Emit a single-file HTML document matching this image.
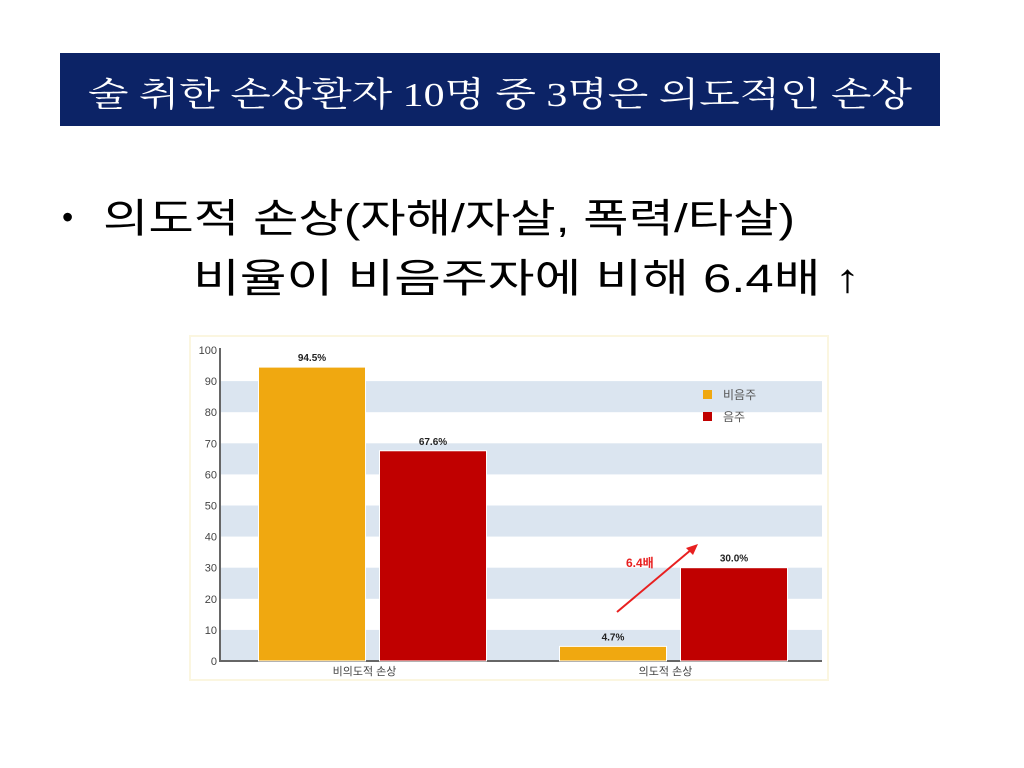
<!DOCTYPE html>
<html><head><meta charset="utf-8"><style>
html,body{margin:0;padding:0;background:#fff;width:1024px;height:768px;overflow:hidden}
svg{display:block}
text{font-family:"Liberation Sans","Noto Sans CJK KR",sans-serif}
</style></head><body>
<svg id="s" width="1024" height="768" viewBox="0 0 1024 768">
<rect x="60" y="53" width="880" height="73" fill="#0c2366"/>
<text x="88" y="106" font-size="34" fill="#fff" textLength="824" lengthAdjust="spacingAndGlyphs" style="font-family:'Liberation Serif','Noto Serif CJK SC',serif">술 취한 손상환자 10명 중 3명은 의도적인 손상</text>
<text x="62" y="228" font-size="32" fill="#000">•</text>
<text x="103" y="232" font-size="40" fill="#000" textLength="692" lengthAdjust="spacingAndGlyphs">의도적 손상(자해/자살, 폭력/타살)</text>
<text x="193" y="292" font-size="40" fill="#000" textLength="667" lengthAdjust="spacingAndGlyphs">비율이 비음주자에 비해  6.4배 ↑</text>
<g id="chart">
<rect x="190" y="336" width="638" height="344" fill="#fff" stroke="#fbf6e0" stroke-width="2"/>
</g>
</svg>
<script>
const categories=["비의도적 손상","의도적 손상"];
const seriesNames=["비음주","음주"];
const nonDrinking=[94.5,4.7];
const drinking=[67.6,30.0];
const yTicks=[0,10,20,30,40,50,60,70,80,90,100];
const colors=["#f0a810","#c00000"];
const NS="http://www.w3.org/2000/svg";
const g=document.getElementById('chart');
const x0=220,x1=822,yTop=350,yBot=661;
function y(v){return yBot-(v/100)*(yBot-yTop);}
function mk(tag,attrs,txt){const e=document.createElementNS(NS,tag);for(const k in attrs)e.setAttribute(k,attrs[k]);if(txt!==undefined)e.textContent=txt;g.appendChild(e);return e;}
for(let i=0;i<yTicks.length-1;i++){
  if(i%2===0){
    const b=mk('rect',{x:x0,y:y(yTicks[i+1]),width:x1-x0,height:y(yTicks[i])-y(yTicks[i+1]),fill:'#dbe5f0'});
    
    
  }
}
yTicks.forEach(t=>{
  const l=mk('text',{x:x0-3,y:y(t)+4,'font-size':11,'text-anchor':'end',fill:'#444'},t);
  
  
});
const ax=mk('path',{d:`M${x0} ${yTop-2}V${yBot}H${x1}`,stroke:'#666','stroke-width':2,fill:'none'});


const groupW=(x1-x0)/categories.length;
const barW=107,gap=14;
categories.forEach((c,i)=>{
  const cx=x0+groupW*i+groupW/2+2;
  [nonDrinking[i],drinking[i]].forEach((v,j)=>{
    const bx=cx-barW-gap/2+j*(barW+gap);
    const r=mk('rect',{x:bx,y:y(v),width:barW,height:yBot-y(v),fill:colors[j],stroke:'#fff','stroke-width':1});
    
    
    const t=mk('text',{x:bx+barW/2,y:y(v)-6,'font-size':10,'font-weight':'bold','text-anchor':'middle',fill:'#222'},v.toFixed(1)+'%');
    
    
  });
  const cl=mk('text',{x:cx-8,y:yBot+14,'font-size':11,'text-anchor':'middle',fill:'#444'},c);
  
  
});
seriesNames.forEach((n,j)=>{
  const s=mk('rect',{x:703,y:390+j*22,width:9,height:9,fill:colors[j]});
  
  
  const t=mk('text',{x:723,y:399+j*22,'font-size':12,fill:'#555'},n);
  
  
});
const ar=mk('line',{x1:617,y1:612,x2:692,y2:549,stroke:'#e82020','stroke-width':2});


const ah=mk('polygon',{points:'698,544 686,548 693,555',fill:'#e82020'});


const at=mk('text',{x:626,y:567,'font-size':12,'font-weight':'bold',fill:'#e82020'},'6.4배');


</script>
</body></html>
